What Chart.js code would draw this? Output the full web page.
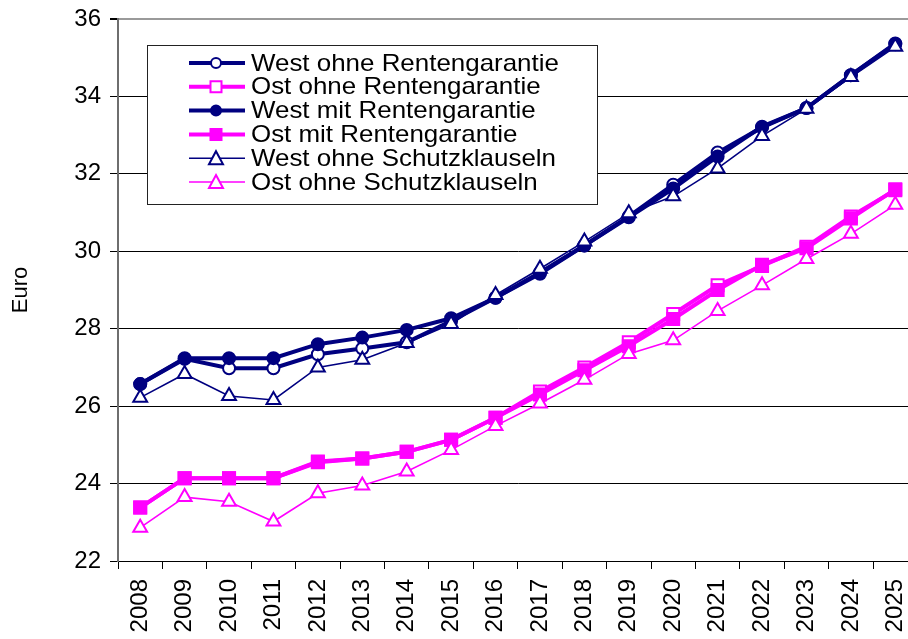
<!DOCTYPE html>
<html>
<head>
<meta charset="utf-8">
<script src="https://cdn.jsdelivr.net/npm/chart.js@4/dist/chart.umd.min.js"></script>
<style>
  html, body { margin: 0; padding: 0; background: #fff; overflow: hidden; }
  canvas { display: block; }
</style>
</head>
<body>
<canvas id="chart" width="928" height="639"></canvas>
<script>
const years = ['2008', '2009', '2010', '2011', '2012', '2013', '2014', '2015', '2016',
  '2017', '2018', '2019', '2020', '2021', '2022', '2023', '2024', '2025'];

const westOhneGarantie = [26.57, 27.22, 26.98, 26.98, 27.34, 27.49, 27.65, 28.2, 28.8,
  29.45, 30.15, 30.9, 31.72, 32.55, 33.2, 33.7, 34.55, 35.35];
const ostOhneGarantie = [23.38, 24.14, 24.14, 24.14, 24.55, 24.65, 24.82, 25.13, 25.7,
  26.38, 27.0, 27.65, 28.38, 29.12, 29.62, 30.12, 30.9, 31.58];
const westMitGarantie = [26.57, 27.24, 27.24, 27.24, 27.6, 27.77, 27.97, 28.27, 28.8,
  29.42, 30.15, 30.88, 31.62, 32.45, 33.22, 33.7, 34.55, 35.37];
const ostMitGarantie = [23.38, 24.14, 24.14, 24.14, 24.57, 24.65, 24.82, 25.13, 25.7,
  26.3, 26.93, 27.55, 28.25, 29.0, 29.65, 30.08, 30.85, 31.6];
const westOhneSchutz = [26.22, 26.83, 26.26, 26.16, 27.0, 27.2, 27.63, 28.12, 28.87,
  29.55, 30.25, 30.98, 31.42, 32.14, 32.98, 33.68, 34.5, 35.28];
const ostOhneSchutz = [22.86, 23.65, 23.53, 23.02, 23.75, 23.95, 24.31, 24.87, 25.49,
  26.07, 26.68, 27.35, 27.7, 28.46, 29.12, 29.8, 30.45, 31.2];

const yTicks = [22, 24, 26, 28, 30, 32, 34, 36];

const NAVY = '#000080';
const PINK = '#ff00ff';
const FONT = '"Liberation Sans", Arial, sans-serif';

function series(label, data, color, style, filled, thick, order) {
  return {
    label: label,
    data: data,
    borderColor: color,
    borderWidth: thick ? 4 : 1.6,
    pointStyle: style,
    pointRadius: style === 'circle' ? 6 : (style === 'rect' ? 8.5 : 8),
    pointBorderWidth: 2,
    pointBorderColor: color,
    pointBackgroundColor: filled ? color : '#fff',
    tension: 0,
    order: order,
  };
}

// little markers for the legend box
function marker(ctx, ds, x, y) {
  const s = 5.5;
  ctx.save();
  ctx.lineWidth = 2;
  ctx.strokeStyle = ds.borderColor;
  ctx.fillStyle = ds.pointBackgroundColor;
  ctx.beginPath();
  if (ds.pointStyle === 'circle') {
    ctx.arc(x, y, 5, 0, Math.PI * 2);
  } else if (ds.pointStyle === 'rect') {
    ctx.rect(x - s, y - s, 2 * s, 2 * s);
  } else {
    ctx.moveTo(x, y - 7);
    ctx.lineTo(x + 7, y + 6);
    ctx.lineTo(x - 7, y + 6);
    ctx.closePath();
  }
  ctx.fill();
  ctx.stroke();
  ctx.restore();
}

const legendBox = {
  id: 'legendBox',
  afterDraw(chart) {
    const ctx = chart.ctx;
    const left = 147, top = 45, w = 450, h = 159;
    ctx.save();
    ctx.fillStyle = '#fff';
    ctx.fillRect(left, top, w, h);
    ctx.strokeStyle = '#222';
    ctx.lineWidth = 1;
    ctx.strokeRect(left + 0.5, top + 0.5, w, h);
    ctx.font = '24px ' + FONT;
    ctx.textBaseline = 'middle';
    chart.data.datasets.forEach((ds, i) => {
      const y = top + 18 + i * 23.8;
      ctx.strokeStyle = ds.borderColor;
      ctx.lineWidth = ds.borderWidth;
      ctx.beginPath();
      ctx.moveTo(189, y);
      ctx.lineTo(245, y);
      ctx.stroke();
      marker(ctx, ds, 216, y);
      // the original text is a bit wider than the font
      ctx.save();
      ctx.translate(251, y + 1);
      ctx.scale(1.08, 1);
      ctx.fillStyle = '#000';
      ctx.fillText(ds.label, 0, 0);
      ctx.restore();
    });
    ctx.restore();
  }
};

new Chart(document.getElementById('chart'), {
  type: 'line',
  data: {
    labels: years,
    datasets: [
      series('West ohne Rentengarantie', westOhneGarantie, NAVY, 'circle', false, true, 5),
      series('Ost ohne Rentengarantie', ostOhneGarantie, PINK, 'rect', false, true, 4),
      series('West mit Rentengarantie', westMitGarantie, NAVY, 'circle', true, true, 3),
      series('Ost mit Rentengarantie', ostMitGarantie, PINK, 'rect', true, true, 2),
      series('West ohne Schutzklauseln', westOhneSchutz, NAVY, 'triangle', false, false, 1),
      series('Ost ohne Schutzklauseln', ostOhneSchutz, PINK, 'triangle', false, false, 0),
    ],
  },
  options: {
    responsive: false,
    animation: false,
    layout: { padding: { top: 19, right: 0, bottom: 0, left: 0 } },
    plugins: {
      legend: { display: false },
      tooltip: { enabled: false },
    },
    scales: {
      x: {
        offset: true,
        grid: {
          offset: true,
          drawOnChartArea: false,
          tickLength: 8,
          color: '#000',
        },
        border: { color: '#000', width: 1 },
        ticks: {
          autoSkip: false,
          minRotation: 90,
          maxRotation: 90,
          padding: 10,
          color: '#000',
          font: { family: FONT, size: 24 },
        },
        afterFit(scale) {
          scale.height = 78;
          scale.paddingLeft = 0;
          scale.paddingRight = 0;
        },
      },
      y: {
        min: 22,
        max: 36,
        afterBuildTicks(scale) { scale.ticks = yTicks.map(v => ({ value: v })); },
        grid: {
          color: c => (c.tick && c.tick.value === 36 ? '#9a9a9a' : '#000'),
          lineWidth: c => (c.tick && c.tick.value === 36 ? 2 : 1),
          tickLength: 8,
          tickColor: '#000',
        },
        border: { color: '#6e6e6e', width: 2 },
        ticks: {
          padding: 9,
          color: '#000',
          font: { family: FONT, size: 24 },
        },
        title: {
          display: true,
          text: 'Euro',
          color: '#000',
          padding: { top: 8, bottom: 0 },
          font: { family: FONT, size: 22 },
        },
        afterFit(scale) {
          scale.width = 118;
          scale.paddingTop = 0;
          scale.paddingBottom = 0;
        },
      },
    },
  },
  plugins: [legendBox],
});
</script>
</body>
</html>
